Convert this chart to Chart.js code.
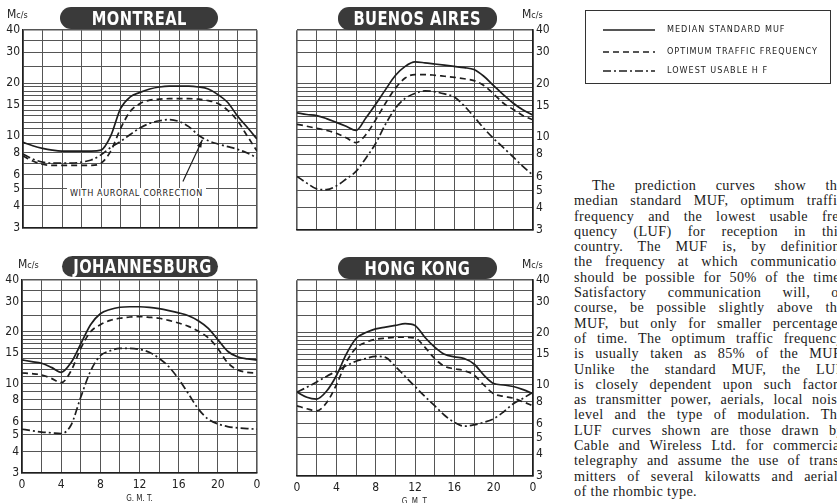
<!DOCTYPE html>
<html>
<head>
<meta charset="utf-8">
<script src="https://cdn.jsdelivr.net/npm/chart.js@4.4.1/dist/chart.umd.min.js"></script>
<style>
  body { margin: 0; width: 837px; height: 503px; overflow: hidden; background: #fff; position: relative; }
  canvas { position: absolute; }
  .pill {
    position: absolute; background: #3a3a3a; color: #fff; border-radius: 11px;
    font: bold 19px 'DejaVu Sans Condensed', sans-serif; text-align: center;
    letter-spacing: 0.5px; white-space: nowrap;
  }
  .pill span { display: inline-block; transform: scaleX(0.86); }
  .unit { position: absolute; font: 12px 'DejaVu Sans Condensed', sans-serif; color: #222; }
  .unit small { font-size: 9px; }
  .note {
    position: absolute; background: #fff; padding: 0 3px;
    font: 9px 'DejaVu Sans Condensed', sans-serif; letter-spacing: 0.6px; color: #222;
  }
  #legend {
    position: absolute; left: 585px; top: 10px; width: 244px; height: 72px;
    border: 1px solid #333; font: 9px 'DejaVu Sans Condensed', sans-serif; letter-spacing: 1px; color: #222;
  }
  #legend div { position: absolute; left: 17px; height: 12px; white-space: nowrap; }
  #legend svg { vertical-align: middle; margin-right: 12px; }
  #text {
    position: absolute; left: 574px; top: 178px; width: 270px;
    font: 14.2px 'Liberation Serif', serif; line-height: 15.3px; color: #1a1a1a; letter-spacing: 0.4px;
  }
  #text div { text-align: justify; text-align-last: justify; white-space: nowrap; }
</style>
</head>
<body>

<canvas id="montreal" width="267" height="218" style="left:0;top:20px"></canvas>
<canvas id="buenos" width="268" height="220" style="left:287px;top:20px"></canvas>
<canvas id="johannesburg" width="267" height="234" style="left:0;top:270px"></canvas>
<canvas id="hongkong" width="268" height="237" style="left:287px;top:270px"></canvas>

<div class="pill" style="left:60px;top:7px;width:158px;height:22px;line-height:22px"><span>MONTREAL</span></div>
<div class="pill" style="left:338px;top:7px;width:159px;height:23px;line-height:23px"><span>BUENOS AIRES</span></div>
<div class="pill" style="left:62px;top:256px;width:156px;height:21px;line-height:21px"><span>JOHANNESBURG</span></div>
<div class="pill" style="left:338px;top:257px;width:159px;height:22px;line-height:22px"><span>HONG KONG</span></div>

<div class="unit" style="left:7px;top:7px">M<small>c/s</small></div>
<div class="unit" style="left:522px;top:7px">M<small>c/s</small></div>
<div class="unit" style="left:18px;top:257px">M<small>c/s</small></div>
<div class="unit" style="left:522px;top:257px">M<small>c/s</small></div>

<div class="note" style="left:67px;top:188px">WITH AURORAL CORRECTION</div>

<div id="legend"></div>

<div id="text">
  <div style="text-indent:18px">The prediction curves show the</div>
  <div>median standard MUF, optimum traffic</div>
  <div>frequency and the lowest usable fre-</div>
  <div>quency (LUF) for reception in this</div>
  <div>country. The MUF is, by definition,</div>
  <div>the frequency at which communication</div>
  <div>should be possible for 50% of the time.</div>
  <div>Satisfactory communication will, of</div>
  <div>course, be possible slightly above the</div>
  <div>MUF, but only for smaller percentages</div>
  <div>of time. The optimum traffic frequency</div>
  <div>is usually taken as 85% of the MUF.</div>
  <div>Unlike the standard MUF, the LUF</div>
  <div>is closely dependent upon such factors</div>
  <div>as transmitter power, aerials, local noise</div>
  <div>level and the type of modulation. The</div>
  <div>LUF curves shown are those drawn by</div>
  <div>Cable and Wireless Ltd. for commercial</div>
  <div>telegraphy and assume the use of trans-</div>
  <div>mitters of several kilowatts and aerials</div>
  <div style="text-align-last:left">of the rhombic type.</div>
</div>

<script>
// Hours G.M.T.
const hours = [0, 1, 2, 3, 4, 5, 6, 7, 8, 9, 10, 11, 12, 13, 14, 15, 16, 17, 18, 19, 20, 21, 22, 23, 24];

// Montreal (Mc/s)
const montrealMuf = [9.2, 8.8, 8.5, 8.3, 8.2, 8.2, 8.2, 8.2, 8.3, 10, 14.3, 16.7, 17.7, 18.5, 19, 19.2, 19.2, 19.2, 19, 18.5, 17.2, 15.5, 13, 11.2, 9.6];
const montrealOtf = [7.7, 7.2, 6.9, 6.8, 6.8, 6.8, 6.8, 6.8, 7.0, 8.2, 11, 13.8, 15.3, 16, 16.2, 16.3, 16.3, 16.3, 16.2, 15.9, 15.3, 14, 12.2, 10, 8.2];
const montrealLuf = [7.9, 7.4, 7.1, 7.0, 7.0, 7.0, 7.1, 7.3, 7.8, 8.6, 9.3, 10.2, 11.1, 11.8, 12.2, 12.4, 12.1, 11.3, 10.1, 9.4, 9.0, 8.7, 8.4, 8.0, 7.5];

// Buenos Aires
const buenosMuf = [13.7, 13.4, 13.2, 12.7, 12.1, 11.5, 10.9, 12.8, 15.3, 18.5, 22.2, 25, 26.5, 26.2, 25.8, 25.4, 25, 24.6, 24, 22, 19.5, 17.3, 15.5, 14.2, 13.3];
const buenosOtf = [11.8, 11.5, 11.2, 10.9, 10.5, 9.9, 9.3, 10.3, 12.5, 15.5, 18.8, 21.5, 22.5, 22.5, 22.3, 22, 21.7, 21.3, 20.8, 19.5, 17.5, 15.5, 14.3, 13.2, 12.5];
const buenosLuf = [6.0, 5.5, 5.1, 5.05, 5.3, 5.8, 6.4, 7.6, 9.2, 11.8, 14.5, 16.5, 17.6, 18.2, 18, 17.5, 16.8, 15, 13, 11.2, 9.8, 8.7, 7.7, 6.8, 6.1];

// Johannesburg
const johannesburgMuf = [13.7, 13.4, 13.1, 12.4, 11.6, 13.2, 17, 22, 25.5, 27, 27.8, 28, 28, 27.8, 27.3, 26.6, 25.8, 24.8, 23.2, 21, 18, 15.4, 14.3, 13.9, 13.7];
const johannesburgOtf = [11.5, 11.4, 11.2, 10.7, 10.1, 11.8, 16, 20, 22, 23.3, 24, 24.4, 24.5, 24.3, 24, 23.3, 22.5, 21.5, 20.2, 18.5, 16, 13.2, 12, 11.6, 11.5];
const johannesburgLuf = [5.4, 5.3, 5.2, 5.15, 5.1, 5.7, 8.3, 11.8, 14.5, 15.5, 16, 16, 15.8, 15.2, 14, 12.5, 10.6, 8.7, 7.1, 6.2, 5.8, 5.6, 5.5, 5.45, 5.4];

// Hong Kong
const hongkongMuf = [9.1, 8.5, 8.3, 9.2, 11.3, 15, 18.5, 20, 21, 21.5, 22, 22.5, 22, 18.8, 16.5, 15, 14.5, 14.2, 13.2, 11.4, 10.2, 10, 9.8, 9.4, 8.9];
const hongkongOtf = [7.6, 7.3, 7.1, 7.9, 10, 13.5, 16.3, 17.6, 18.3, 18.6, 18.8, 18.8, 18.6, 16.5, 14.2, 12.8, 12.4, 12.1, 11.4, 10, 8.9, 8.6, 8.4, 8.0, 7.6];
const hongkongLuf = [9.1, 9.7, 10.4, 11.2, 12, 12.9, 13.7, 14.2, 14.6, 14.4, 12.8, 11.2, 9.8, 8.6, 7.6, 6.7, 6.1, 5.8, 5.9, 6.1, 6.4, 7.0, 7.8, 8.4, 9.1];

// Axes
const xGrid = [0, 2, 4, 6, 8, 10, 12, 14, 16, 18, 20, 22, 24];
const xTickLabels = ['0', '4', '8', '12', '16', '20', '0'];
const yGrid = [3, 4, 5, 6, 7, 8, 9, 10, 11, 12, 13, 14, 15, 16, 17, 18, 19, 20, 25, 30, 35, 40];
const yTickLabels = [3, 4, 5, 6, 8, 10, 15, 20, 30, 40];

const seriesNames = ['MEDIAN STANDARD MUF', 'OPTIMUM TRAFFIC FREQUENCY', 'LOWEST USABLE H F'];
const seriesDash = [[], [6, 4], [8, 3, 2, 3]];

// arrow from the auroral note to the LUF curve (hours, Mc/s)
const auroralArrow = { from: [16.4, 5.5], to: [18.4, 9.5] };

const INK = '#1e1e1e';
const GRID = '#555';
const tickFont = { family: "'DejaVu Sans Condensed', sans-serif", size: 12 };

function points(values) {
  return values.map((v, i) => ({ x: hours[i], y: v }));
}

const arrowPlugin = {
  id: 'auroralArrow',
  afterDatasetsDraw(chart) {
    const { ctx, scales: { x, y } } = chart;
    const x1 = x.getPixelForValue(auroralArrow.from[0]);
    const y1 = y.getPixelForValue(auroralArrow.from[1]);
    const x2 = x.getPixelForValue(auroralArrow.to[0]);
    const y2 = y.getPixelForValue(auroralArrow.to[1]);
    const a = Math.atan2(y2 - y1, x2 - x1);
    ctx.save();
    ctx.strokeStyle = INK;
    ctx.fillStyle = INK;
    ctx.lineWidth = 1.2;
    ctx.beginPath();
    ctx.moveTo(x1, y1);
    ctx.lineTo(x2, y2);
    ctx.stroke();
    ctx.beginPath();
    ctx.moveTo(x2, y2);
    ctx.lineTo(x2 - 8 * Math.cos(a - 0.3), y2 - 8 * Math.sin(a - 0.3));
    ctx.lineTo(x2 - 8 * Math.cos(a + 0.3), y2 - 8 * Math.sin(a + 0.3));
    ctx.closePath();
    ctx.fill();
    ctx.restore();
  }
};

function makeChart(id, muf, otf, luf, opt) {
  const sets = [muf, otf, luf].map((vals, i) => ({
    label: seriesNames[i],
    data: points(vals),
    borderColor: INK,
    borderWidth: 1.7,
    borderDash: seriesDash[i],
    pointRadius: 0,
    cubicInterpolationMode: 'monotone',
    fill: false
  }));

  return new Chart(document.getElementById(id), {
    type: 'line',
    data: { datasets: sets },
    plugins: opt.plugins || [],
    options: {
      responsive: false,
      animation: false,
      events: [],
      layout: { padding: opt.padding },
      plugins: { legend: { display: false }, tooltip: { enabled: false } },
      scales: {
        x: {
          type: 'linear', min: 0, max: 24,
          afterBuildTicks: s => { s.ticks = xGrid.map(v => ({ value: v })); },
          afterFit: s => { s.height = opt.xHeight; },
          grid: { color: GRID, lineWidth: c => (c.tick && (c.tick.value === 0 || c.tick.value === 24)) ? 1.6 : 1, drawTicks: false },
          border: { color: INK, width: 1.6 },
          ticks: {
            display: opt.showX, autoSkip: false, maxRotation: 0, padding: 5,
            color: '#222', font: tickFont,
            callback: v => (v % 4 === 0 ? xTickLabels[v / 4] : '')
          },
          title: {
            display: opt.showX, text: 'G. M. T.', color: '#222', padding: { top: 1, bottom: 0 },
            font: { family: "'DejaVu Sans Condensed', sans-serif", size: 8 }
          }
        },
        y: {
          type: 'logarithmic', min: 3, max: 40, position: opt.side,
          afterBuildTicks: s => { s.ticks = yGrid.map(v => ({ value: v })); },
          afterFit: s => { s.width = opt.yWidth; },
          grid: { color: GRID, lineWidth: c => (c.tick && (c.tick.value === 3 || c.tick.value === 40)) ? 1.6 : 1, drawTicks: false },
          border: { color: INK, width: 1.6 },
          ticks: {
            autoSkip: false, padding: 3, color: '#222', font: tickFont,
            callback: v => (yTickLabels.includes(v) ? String(v) : '')
          }
        }
      }
    }
  });
}

makeChart('montreal', montrealMuf, montrealOtf, montrealLuf, {
  side: 'left', yWidth: 23, xHeight: 10, showX: false,
  padding: { top: 10, right: 10, left: 0, bottom: 0 },
  plugins: [arrowPlugin]
});
makeChart('buenos', buenosMuf, buenosOtf, buenosLuf, {
  side: 'right', yWidth: 22, xHeight: 10, showX: false,
  padding: { top: 10, right: 0, left: 10, bottom: 0 }
});
makeChart('johannesburg', johannesburgMuf, johannesburgOtf, johannesburgLuf, {
  side: 'left', yWidth: 22, xHeight: 31, showX: true,
  padding: { top: 10, right: 10, left: 0, bottom: 0 }
});
makeChart('hongkong', hongkongMuf, hongkongOtf, hongkongLuf, {
  side: 'right', yWidth: 22, xHeight: 31, showX: true,
  padding: { top: 10, right: 0, left: 10, bottom: 0 }
});

// Legend box
const legend = document.getElementById('legend');
const rowTops = [13, 35, 54];
seriesNames.forEach((name, i) => {
  const row = document.createElement('div');
  row.style.top = rowTops[i] + 'px';
  const dash = seriesDash[i].length ? ` stroke-dasharray="${seriesDash[i].join(' ')}"` : '';
  row.innerHTML = `<svg width="52" height="4"><line x1="0" y1="2" x2="52" y2="2" stroke="${INK}" stroke-width="1.5"${dash}/></svg>${name}`;
  legend.appendChild(row);
});
</script>
</body>
</html>
